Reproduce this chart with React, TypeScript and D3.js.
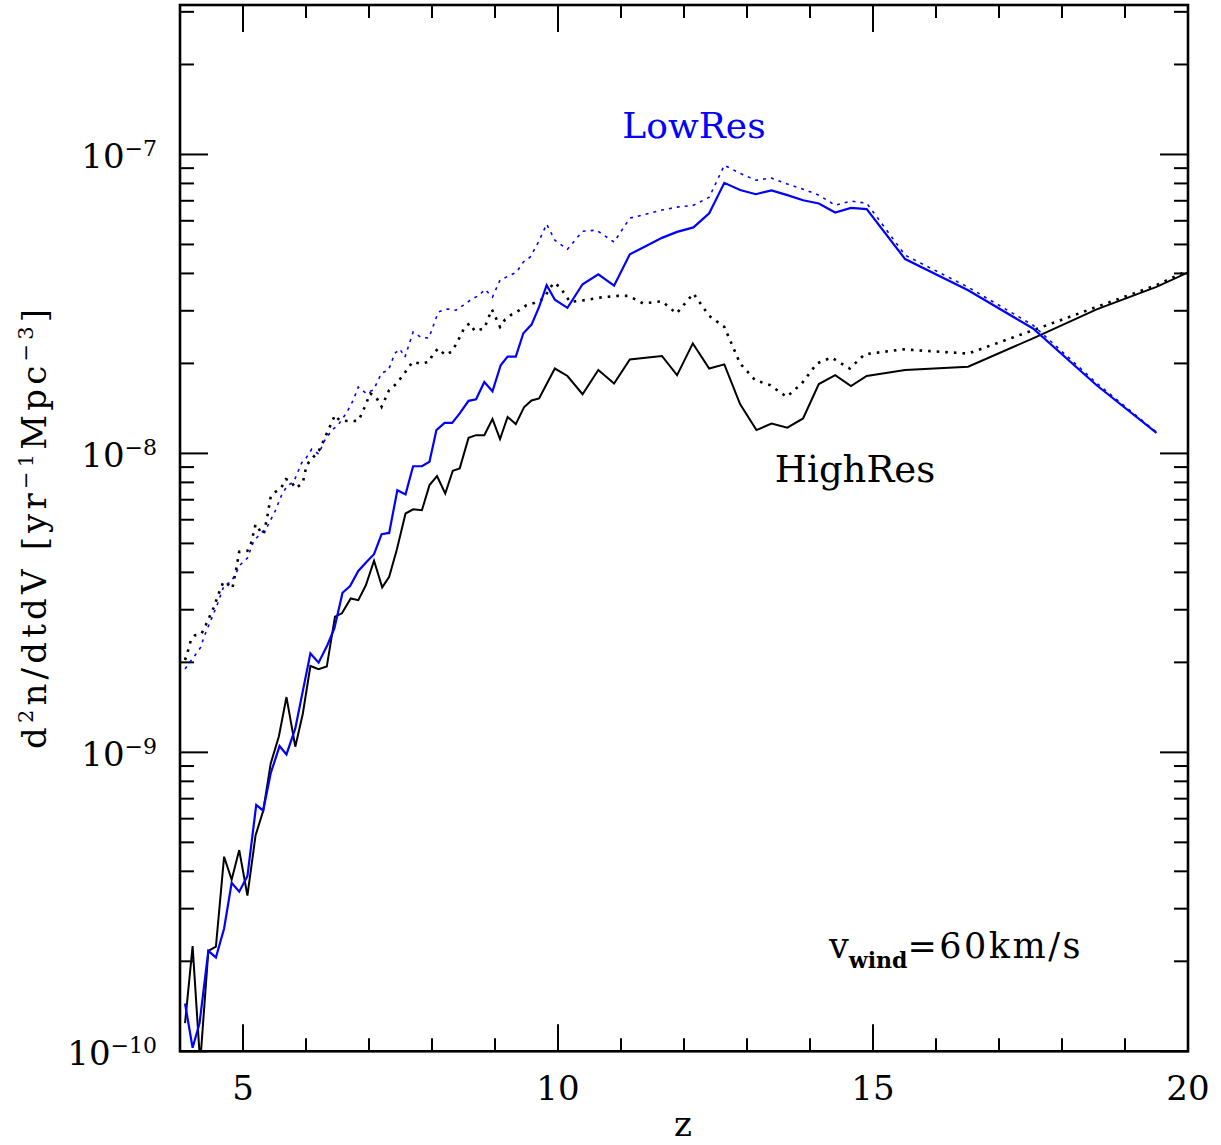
import React from 'react';
import * as d3 from 'd3';

const W = 1221;
const H = 1145;

// Each point: [z, log10(d2n/dtdV)]
const lowResSolid: [number, number][] = [
  [4.08, -9.84], [4.2, -9.988], [4.31, -9.906], [4.45, -9.664], [4.57, -9.686], [4.7, -9.589], [4.82, -9.436],
  [4.94, -9.466], [5.07, -9.414], [5.21, -9.176], [5.32, -9.195], [5.44, -9.07], [5.58, -8.979], [5.69, -9.007],
  [5.83, -8.92], [6.07, -8.669], [6.2, -8.7], [6.34, -8.641], [6.45, -8.585], [6.58, -8.466], [6.7, -8.444],
  [6.83, -8.393], [6.96, -8.363], [7.08, -8.337], [7.2, -8.27], [7.32, -8.266], [7.45, -8.123], [7.58, -8.137],
  [7.7, -8.043], [7.84, -8.043], [7.96, -8.028], [8.07, -7.922], [8.2, -7.898], [8.32, -7.898], [8.44, -7.866],
  [8.58, -7.824], [8.7, -7.819], [8.83, -7.761], [8.96, -7.792], [9.09, -7.705], [9.2, -7.676], [9.33, -7.676],
  [9.45, -7.598], [9.58, -7.569], [9.7, -7.51], [9.82, -7.437], [9.95, -7.486], [10.15, -7.513], [10.39, -7.434],
  [10.64, -7.401], [10.89, -7.439], [11.14, -7.334], [11.39, -7.307], [11.65, -7.279], [11.89, -7.259],
  [12.15, -7.244], [12.4, -7.197], [12.64, -7.095], [12.89, -7.119], [13.14, -7.133], [13.39, -7.12],
  [13.64, -7.136], [13.89, -7.153], [14.14, -7.164], [14.4, -7.194], [14.65, -7.179], [14.9, -7.183],
  [15.51, -7.35], [16.51, -7.454], [17.54, -7.582], [18.55, -7.772], [19.5, -7.931],
];

const lowResDotted: [number, number][] = [
  [4.08, -8.721], [4.24, -8.675], [4.33, -8.648], [4.38, -8.614], [4.49, -8.558], [4.6, -8.501], [4.7, -8.441],
  [4.81, -8.43], [4.89, -8.4], [4.95, -8.374], [5.07, -8.35], [5.17, -8.293], [5.27, -8.27], [5.38, -8.247],
  [5.51, -8.193], [5.62, -8.136], [5.7, -8.109], [5.81, -8.093], [5.93, -8.032], [6.0, -8.016], [6.09, -7.986],
  [6.2, -8.002], [6.29, -7.959], [6.41, -7.922], [6.51, -7.905], [6.65, -7.862], [6.75, -7.822], [6.83, -7.778],
  [6.95, -7.798], [7.07, -7.788], [7.2, -7.731], [7.31, -7.721], [7.41, -7.665], [7.49, -7.651], [7.57, -7.678],
  [7.7, -7.594], [7.82, -7.611], [7.95, -7.614], [8.1, -7.527], [8.24, -7.517], [8.38, -7.521], [8.5, -7.504],
  [8.63, -7.484], [8.75, -7.471], [8.84, -7.451], [8.96, -7.477], [9.08, -7.42], [9.21, -7.407], [9.34, -7.394],
  [9.45, -7.36], [9.56, -7.343], [9.69, -7.293], [9.82, -7.233], [9.95, -7.287], [10.15, -7.317], [10.39, -7.257],
  [10.61, -7.253], [10.89, -7.293], [11.14, -7.213], [11.39, -7.2], [11.65, -7.186], [11.89, -7.176],
  [12.15, -7.17], [12.4, -7.143], [12.64, -7.036], [12.89, -7.063], [13.14, -7.086], [13.39, -7.079],
  [13.64, -7.099], [13.89, -7.116], [14.14, -7.136], [14.4, -7.17], [14.65, -7.156], [14.9, -7.163],
  [15.51, -7.337], [16.51, -7.444], [17.54, -7.571], [18.55, -7.765], [19.5, -7.929],
];

const highResSolid: [number, number][] = [
  [4.08, -9.906], [4.2, -9.648], [4.32, -10.04], [4.45, -9.664], [4.57, -9.65], [4.7, -9.349], [4.82, -9.426],
  [4.94, -9.327], [5.07, -9.479], [5.2, -9.277], [5.32, -9.196], [5.44, -9.037], [5.57, -8.946], [5.69, -8.815],
  [5.83, -8.981], [5.95, -8.87], [6.07, -8.711], [6.2, -8.722], [6.33, -8.713], [6.46, -8.546], [6.57, -8.535],
  [6.71, -8.485], [6.83, -8.491], [6.95, -8.441], [7.08, -8.359], [7.21, -8.448], [7.32, -8.413], [7.44, -8.323],
  [7.58, -8.201], [7.7, -8.187], [7.84, -8.19], [7.96, -8.106], [8.08, -8.076], [8.21, -8.134], [8.33, -8.058],
  [8.44, -8.05], [8.58, -7.948], [8.7, -7.939], [8.83, -7.939], [8.96, -7.885], [9.08, -7.952], [9.2, -7.878],
  [9.33, -7.902], [9.46, -7.846], [9.58, -7.823], [9.7, -7.816], [9.82, -7.768], [9.95, -7.716], [10.15, -7.741],
  [10.39, -7.802], [10.64, -7.721], [10.89, -7.766], [11.14, -7.686], [11.39, -7.68], [11.65, -7.674],
  [11.89, -7.738], [12.14, -7.632], [12.4, -7.716], [12.64, -7.702], [12.89, -7.835], [13.15, -7.922],
  [13.39, -7.9], [13.64, -7.914], [13.89, -7.883], [14.14, -7.768], [14.4, -7.738], [14.65, -7.775],
  [14.9, -7.741], [15.51, -7.721], [16.51, -7.71], [17.54, -7.615], [18.55, -7.518], [19.5, -7.443],
  [20.03, -7.392],
];

const highResDotted: [number, number][] = [
  [4.08, -8.691], [4.13, -8.658], [4.17, -8.627], [4.24, -8.608], [4.34, -8.604], [4.41, -8.574], [4.53, -8.518],
  [4.63, -8.46], [4.69, -8.429], [4.76, -8.438], [4.83, -8.452], [4.89, -8.39], [4.94, -8.329], [5.07, -8.326],
  [5.13, -8.299], [5.2, -8.237], [5.28, -8.262], [5.33, -8.27], [5.39, -8.206], [5.44, -8.145], [5.51, -8.13],
  [5.61, -8.114], [5.68, -8.086], [5.75, -8.092], [5.84, -8.117], [5.95, -8.097], [6.01, -8.039], [6.13, -8.009],
  [6.21, -7.989], [6.35, -7.924], [6.46, -7.872], [6.53, -7.889], [6.67, -7.892], [6.83, -7.891], [6.9, -7.861],
  [7.02, -7.799], [7.11, -7.811], [7.2, -7.844], [7.32, -7.788], [7.44, -7.766], [7.6, -7.721], [7.69, -7.694],
  [7.82, -7.7], [7.95, -7.694], [8.02, -7.666], [8.1, -7.649], [8.21, -7.671], [8.31, -7.66], [8.39, -7.632],
  [8.52, -7.577], [8.6, -7.565], [8.68, -7.591], [8.83, -7.582], [8.95, -7.518], [9.08, -7.577], [9.16, -7.552],
  [9.27, -7.534], [9.39, -7.521], [9.5, -7.504], [9.63, -7.496], [9.77, -7.482], [9.93, -7.429], [10.03, -7.443],
  [10.19, -7.493], [10.44, -7.487], [10.69, -7.478], [10.96, -7.473], [11.12, -7.473], [11.35, -7.498],
  [11.65, -7.491], [11.88, -7.532], [12.15, -7.465], [12.4, -7.54], [12.64, -7.577], [12.89, -7.699],
  [13.13, -7.755], [13.37, -7.772], [13.63, -7.811], [13.87, -7.766], [14.11, -7.699], [14.34, -7.679],
  [14.63, -7.716], [14.87, -7.668], [15.48, -7.652], [16.51, -7.666], [17.54, -7.588], [18.55, -7.51],
  [19.5, -7.437], [20.03, -7.385],
];

const xMajorTicks = [5, 10, 15, 20];
const xMinorTicks = [4, 5, 6, 7, 8, 9, 10, 11, 12, 13, 14, 15, 16, 17, 18, 19, 20];
const yDecades = [-10, -9, -8, -7];
const yMantissas = [2, 3, 4, 5, 6, 7, 8, 9];

const FONT = "'DejaVu Serif', serif";

export default function App() {
  const left = 180, right = 1188, top = 5, bottom = 1051.3;
  const x = d3.scaleLinear().domain([4, 20]).range([left, right]);
  const y = d3.scaleLog().domain([1e-10, Math.pow(10, -6.5)]).range([bottom, top]);

  const line = d3
    .line<[number, number]>()
    .x((d) => x(d[0]))
    .y((d) => y(Math.pow(10, d[1])));

  const minorY: number[] = [];
  yDecades.forEach((e) => yMantissas.forEach((m) => {
    const v = m * Math.pow(10, e);
    if (v <= Math.pow(10, -6.5)) minorY.push(v);
  }));

  const tickW = 2;
  return (
    <svg width={W} height={H} style={{ position: 'absolute', left: 0, top: 0, background: '#fff' }}
      fontFamily={FONT}>
      <defs>
        <clipPath id="plot">
          <rect x={left} y={top} width={right - left} height={bottom - top} />
        </clipPath>
      </defs>
      <rect x={0} y={0} width={W} height={H} fill="#fff" />

      {/* ticks */}
      <g stroke="#000" strokeWidth={tickW}>
        {xMinorTicks.map((t) => {
          const major = xMajorTicks.includes(t);
          const len = major ? 27 : 13;
          return (
            <g key={'x' + t}>
              <line x1={x(t)} x2={x(t)} y1={bottom} y2={bottom - len} />
              <line x1={x(t)} x2={x(t)} y1={top} y2={top + len} />
            </g>
          );
        })}
        {yDecades.map((e) => {
          const v = Math.pow(10, e);
          return (
            <g key={'yM' + e}>
              <line x1={left} x2={left + 28} y1={y(v)} y2={y(v)} />
              <line x1={right} x2={right - 28} y1={y(v)} y2={y(v)} />
            </g>
          );
        })}
        {minorY.map((v, i) => (
          <g key={'ym' + i}>
            <line x1={left} x2={left + 14} y1={y(v)} y2={y(v)} />
            <line x1={right} x2={right - 14} y1={y(v)} y2={y(v)} />
          </g>
        ))}
      </g>

      {/* data */}
      <g clipPath="url(#plot)" fill="none" strokeLinejoin="miter">
        <path d={line(highResDotted) || ''} stroke="#000" strokeWidth={2.6} strokeDasharray="2.6 6" />
        <path d={line(lowResDotted) || ''} stroke="#0000ff" strokeWidth={1.6} strokeDasharray="3 5" />
        <path d={line(highResSolid) || ''} stroke="#000" strokeWidth={2} />
        <path d={line(lowResSolid) || ''} stroke="#0000ff" strokeWidth={2.2} />
      </g>

      {/* frame */}
      <rect x={left} y={top} width={right - left} height={bottom - top} fill="none" stroke="#000" strokeWidth={2.6} />

      {/* x tick labels */}
      <g fontSize={34} textAnchor="middle" fill="#000">
        {xMajorTicks.map((t) => (
          <text key={'xl' + t} x={x(t)} y={1100}>{t}</text>
        ))}
      </g>

      {/* y tick labels */}
      <g fontSize={34} textAnchor="end" fill="#000">
        {yDecades.map((e) => (
          <text key={'yl' + e} x={157} y={y(Math.pow(10, e)) + 14}>
            10<tspan fontSize={22} dy={-12}>{'\u2212' + Math.abs(e)}</tspan>
          </text>
        ))}
      </g>

      {/* axis titles */}
      <text x={683} y={1136} fontSize={34} textAnchor="middle">z</text>
      <text transform="translate(46,529) rotate(-90)" fontSize={34} textAnchor="middle"
        textLength={440} lengthAdjust="spacing">
        d<tspan fontSize={21} dy={-13}>2</tspan><tspan dy={13}>n/dtdV  [yr</tspan>
        <tspan fontSize={21} dy={-13}>{'\u22121'}</tspan><tspan dy={13}>Mpc</tspan>
        <tspan fontSize={21} dy={-13}>{'\u22123'}</tspan><tspan dy={13}>]</tspan>
      </text>

      {/* annotations */}
      <text x={694} y={138} fontSize={36} textAnchor="middle" fill="#0000ff">LowRes</text>
      <text x={855} y={482} fontSize={37} textAnchor="middle" fill="#000">HighRes</text>
      <text x={829} y={958} fontSize={35} fill="#000">
        v<tspan fontSize={22} fontWeight="bold" dy={10}>wind</tspan>
        <tspan dy={-10} letterSpacing={2.5}>=60km/s</tspan>
      </text>
    </svg>
  );
}
